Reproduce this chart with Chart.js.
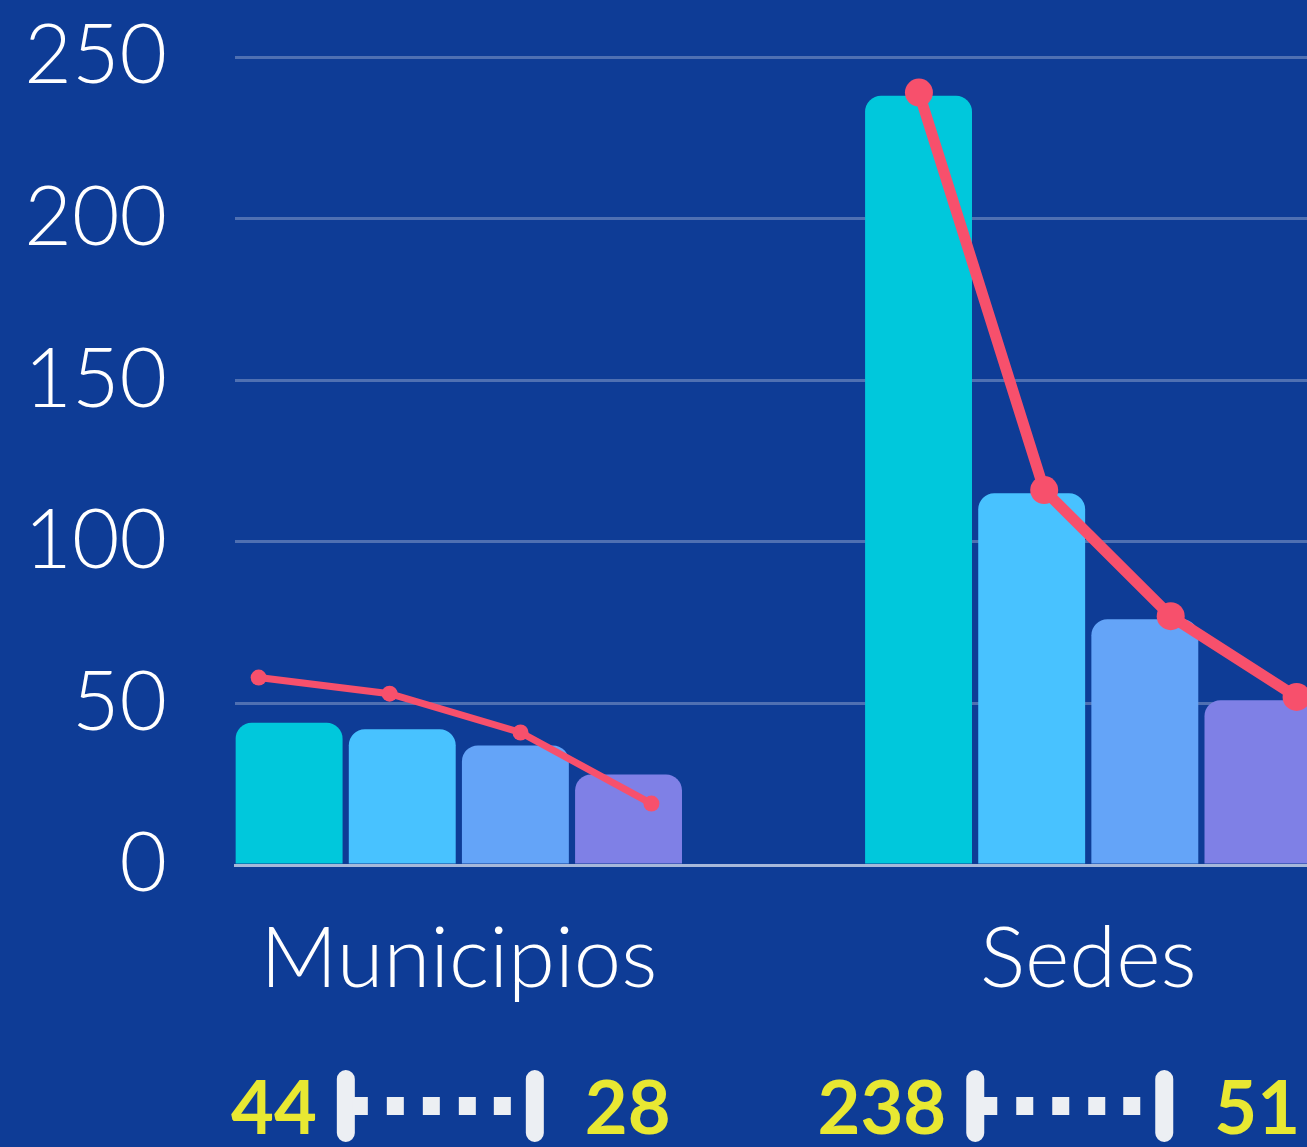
<!DOCTYPE html>
<html>
<head>
<meta charset="utf-8">
<script src="https://cdn.jsdelivr.net/npm/chart.js@4"></script>
<style>
  html, body { margin: 0; padding: 0; background: #0e3c96; overflow: hidden; }
  #wrap { width: 1404px; height: 1147px; }
</style>
</head>
<body>
<div id="wrap"><canvas id="chart1" width="1404" height="1147"></canvas></div>
<script>
// categories and bar series (one value per category)
const categories = ['Municipios', 'Sedes'];
const serie1 = [44, 238];
const serie2 = [42, 115];
const serie3 = [37, 76];
const serie4 = [28, 51];
const barColors = ['#00c8dc', '#48c2ff', '#64a4f8', '#7f80e6'];

// trend lines, one per category (x is position along the category axis)
const trendMunX = [-0.318, -0.110, 0.098, 0.306];
const trendMunY = [58, 53, 41, 19];
const trendSedX = [0.731, 0.930, 1.131, 1.331];
const trendSedY = [239, 116, 77, 52];

const yTicks = [0, 50, 100, 150, 200, 250];

const ctx = document.getElementById('chart1');

function barSet(values, i) {
    return {
        type: 'bar',
        data: values.map((v, k) => ({x: k, y: v})),
        backgroundColor: barColors[i],
        borderRadius: {topLeft: 16, topRight: 16, bottomLeft: 0, bottomRight: 0},
        borderSkipped: 'bottom',
        categoryPercentage: 0.719,
        barPercentage: 0.945,
        order: 2
    };
}

function lineSet(xs, ys, width, radius) {
    return {
        type: 'line',
        data: xs.map((x, k) => ({x: x, y: ys[k]})),
        borderColor: '#f7506c',
        backgroundColor: '#f7506c',
        borderWidth: width,
        pointRadius: radius,
        pointBorderWidth: 0,
        pointBackgroundColor: '#f7506c',
        tension: 0,
        order: 1
    };
}

// first / last value under each group, with a little range glyph between them
const rangePlugin = {
    id: 'rangeRow',
    afterDraw(chart) {
        const c = chart.ctx;
        const xs = chart.scales.x;
        c.save();
        categories.forEach((cat, i) => {
            const center = xs.getPixelForValue(i);
            const L = center - 122;
            const top = 1070, h = 72;
            c.fillStyle = '#eceff3';
            c.beginPath();
            c.roundRect(L, top, 18, h, 9);
            c.roundRect(L + 189, top, 18, h, 9);
            c.fill();
            c.fillRect(L + 16, top + 27, 15, 18);
            [50, 86, 122, 157].forEach(dx => c.fillRect(L + dx, top + 27, 17, 18));

            c.fillStyle = '#e8e832';
            c.font = 'bold 74px Lato';
            c.textBaseline = 'alphabetic';
            c.textAlign = 'right';
            c.fillText(String(serie1[i]), L - 20, 1134);
            c.textAlign = 'left';
            c.fillText(String(serie4[i]), L + 248, 1134);
        });
        c.restore();
    }
};

const config = {
    data: {
        datasets: [
            barSet(serie1, 0),
            barSet(serie2, 1),
            barSet(serie3, 2),
            barSet(serie4, 3),
            lineSet(trendMunX, trendMunY, 7, 8),
            lineSet(trendSedX, trendSedY, 11, 14)
        ]
    },
    options: {
        responsive: false,
        animation: false,
        layout: { padding: { top: 57, left: 0, right: 0, bottom: 0 } },
        plugins: { legend: { display: false }, tooltip: { enabled: false } },
        scales: {
            x: {
                type: 'linear',
                offset: false,
                min: -0.3556,
                max: 1.4794,
                grid: { display: false, drawTicks: false, offset: false },
                border: { display: true, color: '#a6b8da', width: 3 },
                afterBuildTicks: (scale) => {
                    scale.ticks = categories.map((c, i) => ({value: i}));
                },
                afterFit: (scale) => {
                    scale.height = 282;
                    scale.paddingLeft = 0;
                    scale.paddingRight = 0;
                },
                ticks: {
                    autoSkip: false,
                    maxRotation: 0,
                    padding: 44,
                    color: '#ffffff',
                    font: { family: 'Lato', size: 85, weight: '300' },
                    callback: (v) => categories[v]
                }
            },
            y: {
                min: 0,
                max: 250,
                afterBuildTicks: (scale) => {
                    scale.ticks = yTicks.map(v => ({value: v}));
                },
                afterFit: (scale) => {
                    scale.width = 235;
                    scale.paddingTop = 0;
                    scale.paddingBottom = 0;
                },
                grid: { color: 'rgba(255,255,255,0.27)', lineWidth: 3, drawTicks: false },
                border: { display: false },
                ticks: {
                    padding: 68,
                    color: '#ffffff',
                    font: { family: 'Lato', size: 82, weight: '300' }
                }
            }
        }
    },
    plugins: [rangePlugin]
};

let chart = new Chart(ctx, config);
</script>
</body>
</html>
